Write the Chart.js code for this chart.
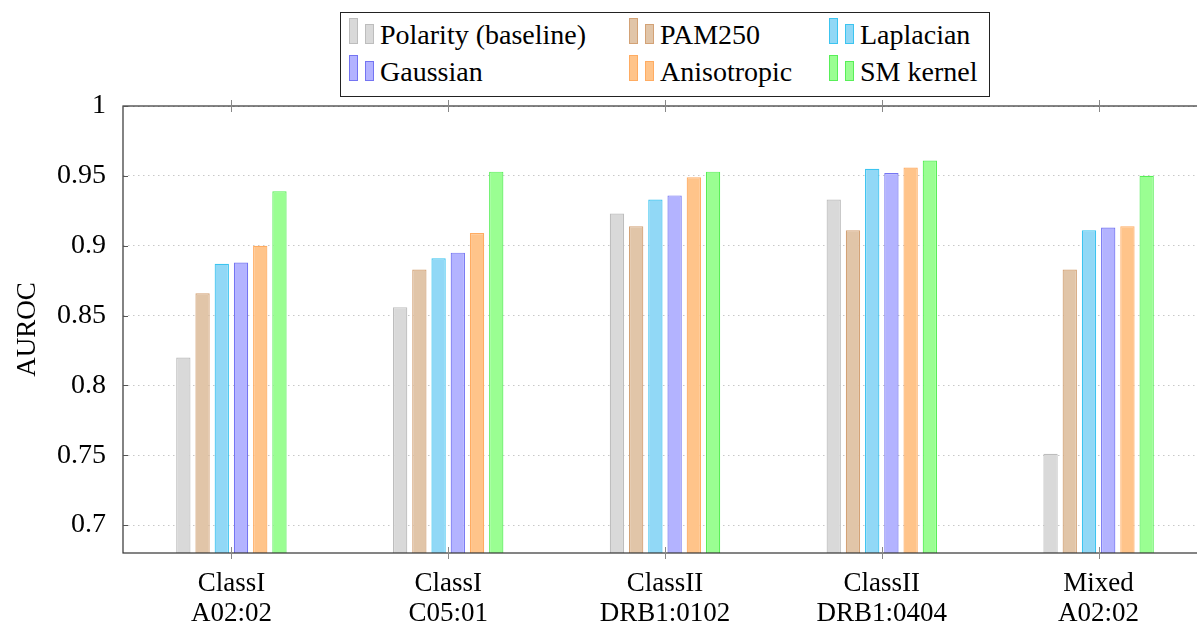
<!DOCTYPE html>
<html>
<head>
<meta charset="utf-8">
<script src="https://cdn.jsdelivr.net/npm/chart.js@4.4.0/dist/chart.umd.min.js"></script>
<style>
html, body { margin: 0; padding: 0; background: #fff; overflow: hidden; width: 1197px; height: 630px;
             font-family: 'Liberation Serif', 'DejaVu Serif', serif; }
#wrap { position: relative; width: 1212px; height: 630px; }
#legend { position: absolute; left: 340px; top: 12px; width: 648px; height: 83px; border: 1.3px solid #222;
          background: #fff; font-family: 'Liberation Serif', 'DejaVu Serif', serif; font-size: 28px; color: #000; }
.item { position: absolute; height: 0; }
.ic { position: absolute; bottom: 0; width: 7px; border: 1px solid; }
.txt { position: absolute; left: 31px; bottom: -5px; line-height: 28px; white-space: nowrap;
       font-family: 'Liberation Serif', 'DejaVu Serif', serif; }
</style>
</head>
<body>
<div id="wrap">
  <canvas id="myChart" width="1212" height="630" style="width:1212px;height:630px"></canvas>
  <div id="legend"></div>
</div>
<script>
// data
const categories  = [['ClassI', 'A02:02'], ['ClassI', 'C05:01'], ['ClassII', 'DRB1:0102'], ['ClassII', 'DRB1:0404'], ['Mixed', 'A02:02']];
const seriesNames = ['Polarity (baseline)', 'PAM250', 'Laplacian', 'Gaussian', 'Anisotropic', 'SM kernel'];
const polarity    = [0.820, 0.856, 0.923, 0.933, 0.751];
const pam250      = [0.866, 0.883, 0.914, 0.911, 0.883];
const laplacian   = [0.887, 0.891, 0.933, 0.955, 0.911];
const gaussian    = [0.888, 0.895, 0.936, 0.952, 0.913];
const anisotropic = [0.900, 0.909, 0.949, 0.956, 0.914];
const smKernel    = [0.939, 0.953, 0.953, 0.961, 0.950];
const yTicks      = [0.7, 0.75, 0.8, 0.85, 0.9, 0.95, 1];

const fills   = ['#d9d9d9', '#e1c5a8', '#91d8f6', '#b3b3ff', '#ffc48a', '#9afe92'];
const borders = ['#bdbdbd', '#d3a276', '#3cc4f0', '#7474f2', '#ffac62', '#58ef58'];
const allSeries = [polarity, pam250, laplacian, gaussian, anisotropic, smKernel];

Chart.defaults.font.family = "'Liberation Serif', 'DejaVu Serif', serif";
Chart.defaults.color = '#000';

// legend box (html, 3 columns x 2 rows)
const legendCols = [8, 288, 488];
const legendRows = [31, 68];
const legend = document.querySelector('#legend');
seriesNames.forEach((name, i) => {
    const item = document.createElement('div');
    item.className = 'item';
    item.style.left = legendCols[i % 3] + 'px';
    item.style.top  = legendRows[Math.floor(i / 3)] + 'px';
    item.innerHTML =
        '<span class="ic" style="left:0;height:24px;background:' + fills[i] + ';border-color:' + borders[i] + '"></span>' +
        '<span class="ic" style="left:16px;height:18px;background:' + fills[i] + ';border-color:' + borders[i] + '"></span>' +
        '<span class="txt">' + name + '</span>';
    legend.appendChild(item);
});

// frame + small tick marks like pgfplots
const framePlugin = {
    id: 'frame',
    afterDraw(chart) {
        const {ctx, chartArea: a, scales: {x, y}} = chart;
        ctx.save();
        ctx.strokeStyle = '#333';
        ctx.lineWidth = 1.2;
        ctx.strokeRect(a.left, a.top, a.right - a.left, a.bottom - a.top);
        ctx.lineWidth = 1;
        ctx.strokeStyle = '#555';
        yTicks.forEach(v => {
            const py = Math.round(y.getPixelForValue(v)) + 0.5;
            ctx.beginPath();
            ctx.moveTo(a.left, py); ctx.lineTo(a.left + 5, py);
            ctx.moveTo(a.right, py); ctx.lineTo(a.right - 5, py);
            ctx.stroke();
        });
        ctx.strokeStyle = '#888';
        categories.forEach((c, i) => {
            const px = Math.round(x.getPixelForValue(i)) + 0.5;
            ctx.beginPath();
            ctx.moveTo(px, a.bottom - 6); ctx.lineTo(px, a.bottom + 6);
            ctx.moveTo(px, a.top - 6); ctx.lineTo(px, a.top + 6);
            ctx.stroke();
        });
        ctx.restore();
    }
};

const data = {
    labels: categories,
    datasets: seriesNames.map((name, i) => ({
        label: name, data: allSeries[i],
        backgroundColor: fills[i], borderColor: borders[i], borderWidth: 1.2,
        barPercentage: 0.745, categoryPercentage: 0.532
    }))
};

const config = {
    type: 'bar',
    data: data,
    options: {
        responsive: false,
        animation: false,
        layout: {padding: {top: 106, right: 5, left: 0, bottom: 0}},
        plugins: {legend: {display: false}, tooltip: {enabled: false}},
        scales: {
            x: {
                grid: {display: false},
                border: {display: false},
                ticks: {font: {size: 27, lineHeight: 1.1}, padding: 8},
                afterFit: s => { s.height = 77; }
            },
            y: {
                min: 0.68, max: 1,
                afterBuildTicks: s => { s.ticks = yTicks.map(v => ({value: v})); },
                grid: {color: '#c8c8c8', lineWidth: 1, drawTicks: false},
                border: {display: false, dash: [1.5, 3.5]},
                ticks: {font: {size: 28}, padding: 17, callback: v => String(Number(v.toFixed(2)))},
                title: {display: true, text: 'AUROC', font: {size: 27}, padding: {top: 12, bottom: 0}},
                afterFit: s => { s.width = 123; }
            }
        }
    },
    plugins: [framePlugin]
};
const myChart = new Chart(document.querySelector('#myChart'), config);
</script>
</body>
</html>
